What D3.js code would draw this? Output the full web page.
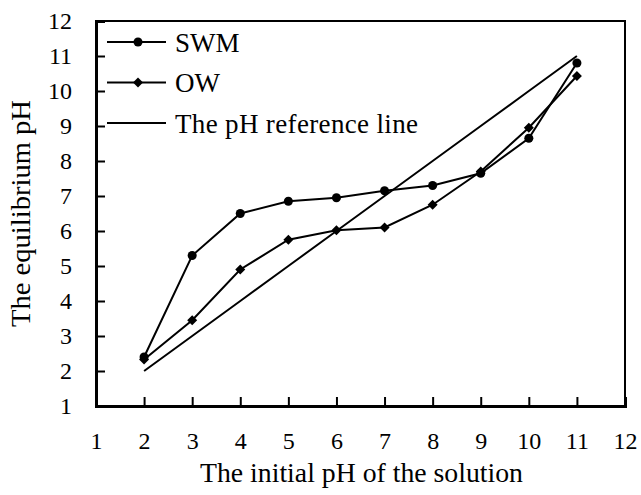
<!DOCTYPE html>
<html>
<head>
<meta charset="UTF-8">
<script src="https://d3js.org/d3.v7.min.js"></script>
</head>
<body style="margin:0">
<svg id="chart" width="641" height="495"></svg>
<script>
const initialPH = [2, 3, 4, 5, 6, 7, 8, 9, 10, 11];
const swm = [2.4, 5.3, 6.5, 6.85, 6.95, 7.15, 7.3, 7.65, 8.65, 10.8];
const ow = [2.33, 3.45, 4.9, 5.75, 6.02, 6.1, 6.75, 7.7, 8.95, 10.43];
const refLine = [2, 3, 4, 5, 6, 7, 8, 9, 10, 11];
const xTicks = [1, 2, 3, 4, 5, 6, 7, 8, 9, 10, 11, 12];
const yTicks = [1, 2, 3, 4, 5, 6, 7, 8, 9, 10, 11, 12];

const FONT = "Liberation Serif";
const margin = {left: 96, top: 21, right: 16, bottom: 89};
const W = 641, H = 495;
const svg = d3.select("#chart");

const x = d3.scaleLinear().domain([1, 12]).range([margin.left, W - margin.right]);
const y = d3.scaleLinear().domain([1, 12]).range([H - margin.bottom, margin.top]);

// frame (top / right)
svg.append("rect")
  .attr("x", x(1)).attr("y", y(12))
  .attr("width", x(12) - x(1)).attr("height", y(1) - y(12))
  .attr("fill", "none").attr("stroke", "#000").attr("stroke-width", 2);

// axes, ticks pointing inward
const xAxis = svg.append("g").attr("transform", `translate(0,${y(1)})`)
  .call(d3.axisBottom(x).tickValues(xTicks).tickSize(-9).tickPadding(26).tickFormat(d3.format("d")));
const yAxis = svg.append("g").attr("transform", `translate(${x(1)},0)`)
  .call(d3.axisLeft(y).tickValues(yTicks).tickSize(-9).tickPadding(24).tickFormat(d3.format("d")));

[xAxis, yAxis].forEach(g => {
  g.attr("font-family", null).attr("font-size", null);
  g.select(".domain").attr("stroke-width", 3);
  g.selectAll(".tick line").attr("stroke-width", 2);
  g.selectAll(".tick text").style("font-family", FONT).style("font-size", "24px");
});
xAxis.selectAll(".tick").filter(d => d === 1 || d === 12).select("line").remove();
yAxis.selectAll(".tick").filter(d => d === 1 || d === 12).select("line").remove();

const line = d3.line().x((d, i) => x(initialPH[i])).y(d => y(d));

[refLine, swm, ow].forEach(s => {
  svg.append("path").datum(s).attr("d", line)
    .attr("fill", "none").attr("stroke", "#000").attr("stroke-width", 2);
});

const circle = d3.symbol().type(d3.symbolCircle).size(64);
const diamond = d3.symbol().type(d3.symbolSquare).size(50);

svg.selectAll(".swm-pt").data(swm).join("path").attr("class", "swm-pt")
  .attr("transform", (d, i) => `translate(${x(initialPH[i])},${y(d)})`)
  .attr("d", circle).attr("fill", "#000");
svg.selectAll(".ow-pt").data(ow).join("path").attr("class", "ow-pt")
  .attr("transform", (d, i) => `translate(${x(initialPH[i])},${y(d)}) rotate(45)`)
  .attr("d", diamond).attr("fill", "#000");

// legend
const legend = [
  {name: "SWM", sym: circle, rot: 0},
  {name: "OW", sym: diamond, rot: 45},
  {name: "The pH reference line", sym: null, len: 243}
];
legend.forEach((d, i) => {
  const ly = 42 + i * 40.5;
  svg.append("line").attr("x1", 107).attr("x2", 166).attr("y1", ly).attr("y2", ly)
    .attr("stroke", "#000").attr("stroke-width", 2);
  if (d.sym) svg.append("path").attr("d", d.sym)
    .attr("transform", `translate(138,${ly}) rotate(${d.rot})`).attr("fill", "#000");
  const t = svg.append("text").attr("x", 175).attr("y", ly + 9.5)
    .style("font-family", FONT).style("font-size", "27px").text(d.name);
  if (d.len) t.attr("textLength", d.len).attr("lengthAdjust", "spacing");
});

// axis titles
svg.append("text").attr("x", 361.5).attr("y", 482)
  .attr("text-anchor", "middle").attr("textLength", 323).attr("lengthAdjust", "spacingAndGlyphs")
  .style("font-family", FONT).style("font-size", "27px").text("The initial pH of the solution");
svg.append("text").attr("transform", `translate(30,${(y(1) + y(12)) / 2}) rotate(-90)`)
  .attr("text-anchor", "middle").attr("textLength", 227).attr("lengthAdjust", "spacingAndGlyphs")
  .style("font-family", FONT).style("font-size", "27px").text("The equilibrium pH");
</script>
</body>
</html>
